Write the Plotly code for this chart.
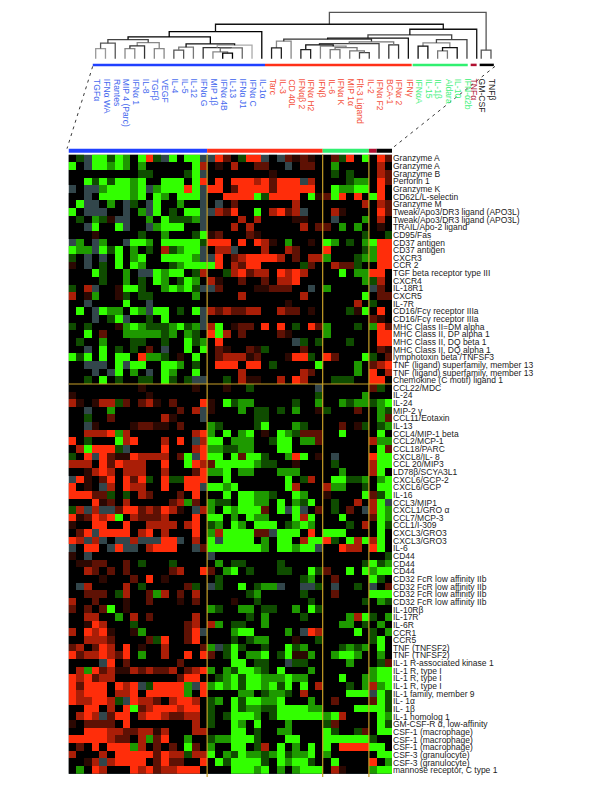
import plotly.graph_objects as go

# ---------- data ----------
cytokines = ["TGFα","IFNα WA","Rantes","MIP 4 (Parc)","IFNα 1","IL-8","TGFβ","VEGF","IL-4","IL-5","IL-12","IFNα G",
             "MIP 1β","IFNα 4B","IL-13","IFNα J1","IFNα C","IL-1α",
             "Tarc","IL-3","CD 40L","IFNαβ 2","IFNα H2","IFNβ","IL-6","IFNα K","MIP 1α","Flt-3 Ligand","IL-2","IFNα F2","BCA-1","IFNα 2","IFNγ",
             "IFNαA","IL-15","IL-1β","Aldara","IL-10","IFN-α2b",
             "TNFα","GM-CSF","TNFβ"]
cluster_sizes = [18, 15, 6, 1, 2]
cluster_colors = ["#2040ff", "#ff3018", "#30f070", "#b01030", "#000000"]
cluster_text = ["#4468ee", "#f4503a", "#44f07c", "#b01838", "#222222"]

genes_top = ["Granzyme A","Granzyme A","Granzyme B","Perforin 1","Granzyme K","CD62L/L-selectin","Granzyme M",
    "Tweak/Apo3/DR3 ligand (APO3L)","Tweak/Apo3/DR3 ligand (APO3L)","TRAIL/Apo-2 ligand","CD95/Fas","CD37 antigen","CD37 antigen",
    "CXCR3","CCR 2","TGF beta receptor type III","CXCR4","IL-18R1","CXCR5","IL-7R","CD16/Fcγ receptor IIIa","CD16/Fcγ receptor IIIa",
    "MHC Class II=DM alpha","MHC Class II, DP alpha 1","MHC Class II, DQ beta 1","MHC Class II, DQ alpha 1","lymphotoxin beta /TNFSF3",
    "TNF (ligand) superfamily, member 13","TNF (ligand) superfamily, member 13","Chemokine (C motif) ligand 1"]
genes_bottom = ["CCL22/MDC","IL-24","IL-24","MIP-2 γ","CCL11/Eotaxin","IL-13","CCL4/MIP-1 beta","CCL2/MCP-1","CCL18/PARC","CXCL8/IL- 8",
    "CCL 20/MIP3","LD78β/SCYA3L1","CXCL6/GCP-2","CXCL6/GCP","IL-16","CCL3/MIP1","CXCL1/GRO α","CCL7/MCP-3","CCL1/I-309","CXCL3/GRO3","CXCL3/GRO3",
    "IL-6","CD44","CD44","CD44","CD32 FcR low affinity IIb","CD32 FcR low affinity IIb","CD32 FcR low affinity IIb","CD32 FcR low affinity IIb",
    "IL-10Rβ","IL-17R","IL-6R","CCR1","CCR5","TNF (TNFSF2)","TNF (TNFSF2)","IL-1 R-associated kinase 1","IL-1 R, type I","IL-1 R, type I","IL-1 R, type I",
    "IL-1 family, member 9","IL- 1α","IL- 1β","IL-1 homolog 1","GM-CSF-R α, low-affinity","CSF-1 (macrophage)","CSF-1 (macrophage)","CSF-1 (macrophage)",
    "CSF-3 (granulocyte)","CSF-3 (granulocyte)","mannose receptor, C type 1"]

# expression level per cell: c/b/a green, . black, o/p/q/r red, x = no data
levels = {"c": -3.0, "b": -1.8, "a": -0.9, ".": 0.0, "o": 0.5, "p": 1.1, "q": 2.0, "r": 3.0, "x": None}

expr_top = [
".axccacb.craxc.ccx xrp.arrx.xpopo. .par.c .rp",
"c.xccbcb.b......cq .o.q..pp..x.pp. .b.... .q.",
".........aa....acx ........o...... .a.a.. .qp",
"..cacaccbc..ccc.cr .r.rrrqrprrrxq. ...abb .rp",
"x.xxbcccbcxbcccrcx rr.prrrrprrrrr. .cbbcc .r.",
"..x.ccccbc.cb.cccx ..rrrrcarrrr.co pcr.r. cr.",
".cxx.b.xa.xc..b..x .x.p.......q... .....q .qp",
"c.xxx..x.bxc.a.ccx xqpr..c.qrpqx.. .qo... .rp",
".a.baoxx..b.caaabx ....q.q....oo.. .x...b .q.",
"..xc..cx..xbccc..x ...q.q......q.p p.b.b. .o.",
"...o.....a..b...ac op...po........ .....a ..a",
"xb.xb..xccb.ccccca rrr.r.rqo.b..o. cb.a.b crr",
"cbbxcac.b.a.qabccx .qqx...q..qp... r....a brr",
"a.x.x.c.bc..ccccbx xr.pqrrrrq.p.qq b...ab brr",
"o.x.a.c.cb...abccc cr.qprr.....ap. .qppa. .rr",
"...ca..b.xxcbcc.aq ..aqrpqq.rqrq.. ..c.bb rr.",
"....a..b.a.cb.acb. qo..p..p.qqr... .....b aq.",
"a.qx..occa..bcbcax xp....ooppp..x. b..... xp.",
"q.ob..oa.aa.....b. ....q.......q.. .....c .pp",
"..x....c..x....... ..........o.... ....q. a..",
".c.xcbb.cbxcc.a.cx qpqppqq..qpp.o. ...aoc .r.",
"...x.acx..a.c....x ............... ...... po.",
"a.a...obcbaaabcabx qc.opp.r.r.a.rp b...a. brp",
"..c.p..bbbbbab.ba. rcq.p....po.... b..... .rr",
".a..b...aa..a..cab .r.........xa.a ...a.. .rr",
"..x.c.a.a.p.x..c.c .po..poa....p.. ...... .po",
"cac.c.cc.rbba.o.c. .pqqqop...orra. rp...c a.p",
"..xxx.cxcc..ccb.a. .rrr.rr.a.....c ....b. pqr",
"...x.xc.b.x.cb..c. ....q.......qp. ....b. r.q",
"..a.c.a..aa.ca.axx ..a.qoo..q.rq.. .aaa.. rr.",
]

expr_bottom = [
".........o......o. ..o..a........x ...... pa.",
"o.........o....... ..............a .....b ...",
"qo.oqqap.pqo.p...r o.cabb.....a..b ..babb abc",
"..x..b........p.qx o...b.aa.a.b..o a...p. .ba",
"..a..p......qo...x ......aa....... ...... .bp",
"..xo....oppoo.p... ba....ac...ba.. ..p.oa .ab",
"..qqqrbq........qr b.c.bc.o.cbappp ..c... .c.",
"r.a...cqr...q.r.xq cc.bbb..acc.bbp ...... qbb",
".qcrrrax....r...qr bbaabb...cc.... ...... .cp",
"a.rxrpoorqqqq.pcxr cc.cpcca..brc.o .x.... rcc",
"qqq.rprqqq..r..crq pcccccbaa..o... .a.... qcc",
"..oqrq.qqq..q...pr bbc.bb...bbb... ..b... qc.",
"xro.pr.rpra.raarrr ..c.......c.aq. .ccaab .bc",
"r.o.xq.rqq..r..rrx ccbc......cq... qbb..a .cc",
"rrrppa.a.qp...p.r. ..c.ccbba..cb.. o....c pac",
"...rop.q.....pqbp. baa.ccbb.c.bac. .a..q. qcx",
"aqxqxxprrpqprqo.xq b.cbcccp.cxcx.p .a.p.x qcb",
"roprqrc.qpppq...r. cc.b.cbb...cqc. ..c... pcb",
"o..rr..r..qqqq.qr. ab.cb.ccc.abcb. ...a.q .ca",
".prxrrrr.qr.q...r. bqccccppxccc.r. ccc... .c.",
"rqxqx.xxqxxxrrx.q. cxcccc.b.cc.qcc ra.cqc qc.",
"x.rr.xrxx.qrrr..xp cccccccb.ccbccx ..rqq. rc.",
"o.x............... x.............. ...... ..a",
".oopp..p.a...a.... .b.aa....a..... .....a cab",
"..qp.p.p.....pq..r p.bc.a...aa..ca p..c.c bcc",
"....o...p.r.o..... .a..........ab. .p.... ca.",
".xq....q.a.....pa. xa..c.abbx..xxa .x..a. x.p",
"..ppp.aq..pbq.p.q. .....ab.....a.. .p.... ccc",
"q..p...o..p...o.p. ...o..a......a. .....a .ba",
"p.p.pc.o.......... ba..bb.aa..b.ca ...... ...",
"..qq..b.q.p.....q. .....a.b....a.. ...bqc a.b",
"..orq...a......pq. qb.aa..b....... ..bb.a .b.",
"q.rqro..ob.....prx ...bcc....b.xrq ....c. a.b",
"..qqqp....par..pr. ...a.abb...o..a ...... ac.",
"pq.prq.r.o..q....p bxaca..a..cab.. ..abab .c.",
"rpqqrqpr.b..q..r.r p.ac.bbc.acoob. .bccb. .b.",
"....xr.p......p... ...cc.aa..xaa.. ...b.. .ap",
".qbrpqooqpqppq.pqr b.baccba.c...b. ...... bcc",
"rqrpqq........prr. .abcaccbbbcbb.. ..c..b bcc",
"rprrr.rqrxarrrrbxr bcbcaccbcac.c.q ...a.b qbc",
"rqrrr.qqr.rrrrrb.r ....bb.abba.q.. ...ccc xca",
"rqqrrqaxrqqp.qrrq. ab.caccbbc...b. .p.... pca",
"..rr.q.rcpqrrrqrr. a..cabbaaccccbb ....cc cca",
".qrqxprr.qrrqppqq. a.acccb.acccccc bcq... .cb",
"o.pppp.r........q. a..cb.c...b.... ap.... .ca",
"..rrrqqppqqoq...qq ...cc.a..bb.... ca..ap .cc",
"rrrrrqpp.qbpr..b.. abbccca...cc... cccccc a..",
".p.r.rrrbq.p.p.cp. b..cc.aq.c.b.c. c.rrrr cc.",
"q...q.rrrrrprqqaqq c.bacbbabcabbc. b..... .cc",
"..oqxqrrrr.prpp..r .cacccca.cbcca. .c.... r.b",
".b.rq...rqrpqqrrr. ...cccbc.b.bccc .qo... bcc",
]

# dendrogram: leaf positions, then merges (left, right, height, shade); nodes numbered from 42
leaf_positions = list(range(40)) + [39.46, 40.46]
merges = [
 (0,1,10.3,"#999"),(42,2,15.7,"#555"),(3,4,10.3,"#888"),(44,5,13,"#333"),(6,7,10.3,"#888"),(45,46,16.3,"#888"),(43,47,19.3,"#444"),
 (8,9,8.7,"#555"),(49,10,11.7,"#777"),(13,14,5.7,"#000"),(12,51,7,"#888"),(52,15,11,"#666"),(11,53,11.3,"#333"),(54,16,13.7,"#aaa"),
 (50,55,15,"#111"),(48,56,22,"#000"),(57,17,27.3,"#000"),
 (18,19,11,"#222"),(59,20,17.7,"#888"),(21,22,9.3,"#222"),(24,25,9.3,"#777"),(27,28,6.3,"#444"),(26,63,8,"#777"),(62,64,11.3,"#777"),
 (23,65,12.7,"#888"),(61,66,14,"#111"),(67,29,15.3,"#444"),(30,31,14,"#333"),(68,69,17,"#777"),(60,70,19.7,"#333"),(71,32,20.7,"#111"),
 (33,34,12.7,"#111"),(35,36,8,"#777"),(74,37,11.3,"#111"),(73,75,16,"#888"),(76,38,19.3,"#444"),(72,77,24,"#444"),(78,39,29.7,"#111"),
 (58,79,34.7,"#111"),(40,41,8.7,"#555"),(80,81,46.7,"#555"),
]

# ---------- page geometry (pixels); the page body has an 8 px margin ----------
OX, OY = 8, 8
W, H = 584, 770
def px(x): return (x - OX) / W
def py(y): return 1 - (y - OY) / H

HX0, HX1, HY0, HY1 = 68.5, 392.0, 154.0, 775.0      # heat map box
DX0, DX1, DY0, DY1 = 90.0, 500.0, 8.0, 66.0          # dendrogram box
LEAF0, LEAFW, BASE = 95.7, 9.77, 58.0

genes = genes_top + genes_bottom
rows = expr_top + expr_bottom
z = [[levels[ch] for ch in r.replace(" ", "")] for r in rows]
for r in z:
    assert len(r) == 42

fig = go.Figure()
fig.add_trace(go.Heatmap(z=z, x=list(range(42)), y=list(range(len(genes))), xaxis="x", yaxis="y",
    zmin=-3, zmax=3, showscale=False, hoverongaps=False, xgap=0, ygap=0,
    colorscale=[[0, "#32ff00"], [0.5, "#000000"], [1, "#ff2d0a"]]))

# dendrogram segments, grouped by shade
pos = {i: (p, 0.0) for i, p in enumerate(leaf_positions)}
segs = {}
for k, (a, b, h, shade) in enumerate(merges):
    xa, ha = pos[a]; xb, hb = pos[b]
    s = segs.setdefault(shade, ([], []))
    s[0].extend([xa, xa, xb, xb, None]); s[1].extend([ha, h, h, hb, None])
    pos[42 + k] = ((xa + xb) / 2, h)
for shade, (xs, ys) in segs.items():
    fig.add_trace(go.Scatter(x=xs, y=ys, xaxis="x2", yaxis="y2", mode="lines",
                             line=dict(color=shade, width=1.3), hoverinfo="skip", showlegend=False, cliponaxis=False))

shapes = [dict(type="rect", xref="x", yref="y", x0=-0.5, x1=41.5, y0=-0.5, y1=80.5,
               fillcolor="#32464b", line_width=0, layer="below")]
# colour bars
start = 0
upper_edges = [-0.3, 17.33, 32.34, 38.08, 38.99, 40.75]
upper_starts = [-0.3, 17.33, 32.44, 38.38, 39.3]
for i, n in enumerate(cluster_sizes):
    shapes.append(dict(type="rect", xref="x", yref="paper", x0=start - 0.5, x1=start + n - 0.5,
                       y0=py(152.2), y1=py(148), fillcolor=cluster_colors[i], line_width=0, layer="above"))
    shapes.append(dict(type="rect", xref="x2", yref="paper", x0=upper_starts[i], x1=upper_edges[i + 1],
                       y0=py(65.3), y1=py(62.8), fillcolor=cluster_colors[i], line_width=0))
    start += n
# separators
for col in [18, 33, 39]:
    shapes.append(dict(type="line", xref="x", yref="paper", x0=col - 0.5, x1=col - 0.5, y0=py(HY1 + 3), y1=py(HY0),
                       line=dict(color="#c8a028", width=1.2), layer="above"))
shapes.append(dict(type="line", xref="x", yref="y", x0=-0.5, x1=41.5, y0=29.5, y1=29.5,
                   line=dict(color="#c8a028", width=1.2), layer="above"))
# dashed zoom guides
for x0, x1 in [(92.7, 67.0), (495.0, 391.7)]:
    shapes.append(dict(type="line", xref="paper", yref="paper", x0=px(x0), x1=px(x1), y0=py(65.5), y1=py(148),
                       line=dict(color="#222", width=0.9, dash="3px,4px")))

# column labels
annotations = []
k = 0
label_nudge = {39: -2.5, 40: 1.0, 41: 1.0}
for i, n in enumerate(cluster_sizes):
    for _ in range(n):
        annotations.append(dict(text=cytokines[k], x=leaf_positions[k], y=py(76.0), xref="x2", yref="paper",
                                textangle=90, xanchor="center", yanchor="top", showarrow=False,
                                xshift=label_nudge.get(k, 1.0),
                                font=dict(size=8.6, color=cluster_text[i], family="Liberation Sans")))
        k += 1

fig.update_layout(
    width=W, height=H, margin=dict(l=0, r=0, t=0, b=0), paper_bgcolor="white", plot_bgcolor="white",
    showlegend=False, shapes=shapes, annotations=annotations, font=dict(family="Liberation Sans"),
    xaxis=dict(domain=[px(HX0), px(HX1)], range=[-0.5, 41.5], showticklabels=False, showgrid=False, zeroline=False, ticks=""),
    yaxis=dict(domain=[py(HY1), py(HY0)], range=[80.5, -0.5], side="right", tickmode="array",
               tickvals=list(range(len(genes))), ticktext=genes, ticklen=4, tickcolor="rgba(0,0,0,0)",
               tickfont=dict(size=8.5, color="#222", family="Liberation Sans"), showgrid=False, zeroline=False),
    xaxis2=dict(domain=[px(DX0), px(DX1)], range=[(DX0 - LEAF0) / LEAFW, (DX1 - LEAF0) / LEAFW], anchor="y2", visible=False),
    yaxis2=dict(domain=[py(DY1), py(DY0)], range=[BASE - DY1, BASE - DY0], anchor="x2", visible=False),
)
fig.write_html("out.html")
